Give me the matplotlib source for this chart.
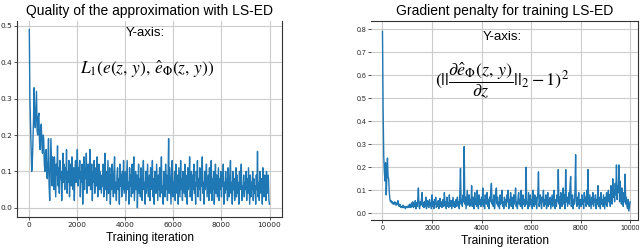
import numpy as np
import matplotlib
matplotlib.use("Agg")
import matplotlib.pyplot as plt

plt.rcParams['mathtext.fontset'] = 'stix'

# L1 approximation quality (left panel), one value every 25 iterations
l1_quality = [
    0.49, 0.30, 0.23, 0.15, 0.10, 0.12, 0.18, 0.24, 0.33, 0.25,
    0.22, 0.27, 0.32, 0.21, 0.20, 0.25, 0.26, 0.18, 0.16, 0.22,
    0.23, 0.17, 0.15, 0.20, 0.19, 0.12, 0.10, 0.15, 0.16, 0.09,
    0.08, 0.13, 0.19, 0.06, 0.02, 0.11, 0.19, 0.12, 0.06, 0.14,
    # 1000-1975
    0.10, 0.05, 0.14, 0.08, 0.03, 0.12, 0.09, 0.17, 0.06, 0.11,
    0.04, 0.13, 0.08, 0.10, 0.02, 0.09, 0.15, 0.07, 0.12, 0.05,
    0.11, 0.08, 0.16, 0.04, 0.10, 0.07, 0.13, 0.03, 0.09, 0.12,
    0.06, 0.14, 0.08, 0.05, 0.11, 0.02, 0.10, 0.13, 0.07, 0.09,
    # 2000-2975
    0.16, 0.06, 0.11, 0.08, 0.13, 0.03, 0.10, 0.07, 0.12, 0.01,
    0.09, 0.14, 0.05, 0.11, 0.08, 0.15, 0.04, 0.09, 0.12, 0.06,
    0.10, 0.16, 0.05, 0.08, 0.12, 0.02, 0.10, 0.07, 0.13, 0.04,
    0.09, 0.11, 0.06, 0.14, 0.03, 0.08, 0.12, 0.05, 0.10, 0.07,
    # 3000-3975
    0.04, 0.09, 0.06, 0.12, 0.03, 0.07, 0.15, 0.05, 0.10, 0.02,
    0.08, 0.13, 0.04, 0.06, 0.11, 0.01, 0.09, 0.05, 0.12, 0.07,
    0.03, 0.10, 0.14, 0.04, 0.07, 0.02, 0.09, 0.11, 0.05, 0.08,
    0.01, 0.12, 0.06, 0.09, 0.03, 0.10, 0.05, 0.13, 0.04, 0.07,
    # 4000-4975
    0.10, 0.02, 0.08, 0.13, 0.05, 0.07, 0.01, 0.11, 0.06, 0.09,
    0.03, 0.12, 0.04, 0.08, 0.14, 0.02, 0.06, 0.10, 0.05, 0.09,
    0.00, 0.07, 0.12, 0.04, 0.08, 0.03, 0.11, 0.06, 0.02, 0.09,
    0.13, 0.05, 0.07, 0.01, 0.10, 0.04, 0.08, 0.12, 0.03, 0.06,
    # 5000-5975
    0.09, 0.02, 0.11, 0.05, 0.07, 0.13, 0.03, 0.08, 0.01, 0.10,
    0.06, 0.04, 0.12, 0.07, 0.02, 0.09, 0.05, 0.11, 0.03, 0.08,
    0.14, 0.04, 0.06, 0.01, 0.10, 0.07, 0.03, 0.12, 0.05, 0.09,
    0.02, 0.08, 0.19, 0.04, 0.11, 0.06, 0.01, 0.09, 0.13, 0.03,
    # 6000-6975
    0.07, 0.05, 0.10, 0.02, 0.12, 0.06, 0.04, 0.09, 0.01, 0.11,
    0.07, 0.03, 0.13, 0.05, 0.08, 0.02, 0.10, 0.06, 0.04, 0.12,
    0.03, 0.09, 0.07, 0.01, 0.11, 0.05, 0.08, 0.14, 0.03, 0.06,
    0.10, 0.02, 0.09, 0.05, 0.12, 0.04, 0.07, 0.01, 0.10, 0.06,
    # 7000-7975
    0.13, 0.03, 0.08, 0.05, 0.11, 0.02, 0.09, 0.06, 0.14, 0.04,
    0.07, 0.01, 0.10, 0.05, 0.08, 0.12, 0.03, 0.06, 0.09, 0.02,
    0.11, 0.04, 0.07, 0.13, 0.02, 0.08, 0.05, 0.10, 0.01, 0.06,
    0.12, 0.04, 0.09, 0.03, 0.07, 0.11, 0.02, 0.08, 0.05, 0.10,
    # 8000-8975
    0.03, 0.09, 0.06, 0.12, 0.01, 0.07, 0.04, 0.10, 0.05, 0.08,
    0.02, 0.11, 0.06, 0.03, 0.09, 0.13, 0.04, 0.07, 0.01, 0.10,
    0.05, 0.08, 0.02, 0.06, 0.11, 0.03, 0.09, 0.04, 0.07, 0.01,
    0.10, 0.05, 0.08, 0.12, 0.02, 0.06, 0.04, 0.09, 0.03, 0.07,
    # 9000-10000
    0.05, 0.10, 0.02, 0.08, 0.04, 0.11, 0.06, 0.01, 0.09, 0.03,
    0.07, 0.05, 0.10, 0.02, 0.08, 0.04, 0.06, 0.01, 0.09, 0.05,
    0.155, 0.03, 0.07, 0.02, 0.10, 0.05, 0.04, 0.08, 0.01, 0.11,
    0.06, 0.03, 0.09, 0.05, 0.02, 0.10, 0.04, 0.07, 0.09, 0.02,
    0.01,
]

# Gradient penalty (right panel), one value every 25 iterations
grad_penalty = [
    0.79, 0.45, 0.25, 0.18, 0.14, 0.22, 0.08, 0.15, 0.24, 0.16,
    0.15, 0.09, 0.06, 0.05, 0.055, 0.045, 0.05, 0.04, 0.045, 0.04,
    0.05, 0.04, 0.035, 0.045, 0.04, 0.055, 0.035, 0.03, 0.04, 0.03,
    0.025, 0.03, 0.025, 0.035, 0.025, 0.03, 0.025, 0.02, 0.03, 0.025,
    # 1000-1975
    0.025, 0.03, 0.035, 0.025, 0.04, 0.03, 0.025, 0.045, 0.03, 0.05,
    0.025, 0.04, 0.03, 0.055, 0.02, 0.045, 0.03, 0.06, 0.11, 0.03,
    0.02, 0.05, 0.035, 0.06, 0.09, 0.03, 0.045, 0.025, 0.05, 0.03,
    0.07, 0.02, 0.04, 0.055, 0.03, 0.025, 0.06, 0.035, 0.045, 0.02,
    # 2000-2975
    0.08, 0.03, 0.05, 0.02, 0.06, 0.04, 0.07, 0.025, 0.045, 0.03,
    0.055, 0.02, 0.04, 0.065, 0.03, 0.05, 0.025, 0.04, 0.06, 0.03,
    0.09, 0.035, 0.05, 0.02, 0.07, 0.03, 0.045, 0.025, 0.08, 0.04,
    0.03, 0.055, 0.02, 0.045, 0.07, 0.03, 0.05, 0.025, 0.04, 0.06,
    # 3000-3975
    0.03, 0.07, 0.04, 0.05, 0.02, 0.09, 0.195, 0.04, 0.06, 0.03,
    0.08, 0.05, 0.29, 0.04, 0.07, 0.02, 0.06, 0.10, 0.035, 0.05,
    0.08, 0.03, 0.06, 0.04, 0.12, 0.03, 0.07, 0.05, 0.02, 0.09,
    0.04, 0.06, 0.03, 0.10, 0.05, 0.02, 0.08, 0.04, 0.06, 0.03,
    # 4000-4975
    0.07, 0.04, 0.11, 0.03, 0.06, 0.02, 0.08, 0.05, 0.04, 0.09,
    0.03, 0.06, 0.02, 0.07, 0.05, 0.10, 0.13, 0.04, 0.06, 0.03,
    0.08, 0.02, 0.05, 0.09, 0.11, 0.04, 0.07, 0.03, 0.05, 0.02,
    0.08, 0.04, 0.06, 0.10, 0.03, 0.05, 0.02, 0.07, 0.04, 0.06,
    # 5000-5975
    0.03, 0.08, 0.05, 0.10, 0.02, 0.06, 0.04, 0.09, 0.03, 0.07,
    0.05, 0.02, 0.08, 0.04, 0.06, 0.11, 0.03, 0.05, 0.02, 0.07,
    0.09, 0.04, 0.06, 0.03, 0.10, 0.05, 0.02, 0.08, 0.04, 0.06,
    0.03, 0.07, 0.20, 0.04, 0.05, 0.02, 0.09, 0.06, 0.03, 0.08,
    # 6000-6975
    0.04, 0.06, 0.02, 0.10, 0.05, 0.03, 0.08, 0.04, 0.07, 0.02,
    0.06, 0.09, 0.18, 0.03, 0.05, 0.08, 0.04, 0.02, 0.07, 0.05,
    0.10, 0.03, 0.06, 0.04, 0.08, 0.02, 0.05, 0.09, 0.03, 0.06,
    0.04, 0.07, 0.02, 0.05, 0.08, 0.03, 0.06, 0.10, 0.04, 0.02,
    # 7000-7975
    0.06, 0.03, 0.08, 0.05, 0.19, 0.04, 0.07, 0.02, 0.09, 0.05,
    0.03, 0.06, 0.11, 0.04, 0.08, 0.02, 0.19, 0.05, 0.07, 0.03,
    0.06, 0.09, 0.04, 0.12, 0.16, 0.03, 0.05, 0.08, 0.02, 0.06,
    0.04, 0.10, 0.255, 0.05, 0.03, 0.07, 0.04, 0.09, 0.02, 0.06,
    # 8000-8975
    0.05, 0.03, 0.08, 0.04, 0.06, 0.02, 0.09, 0.05, 0.07, 0.03,
    0.10, 0.04, 0.19, 0.06, 0.03, 0.08, 0.05, 0.02, 0.07, 0.04,
    0.09, 0.03, 0.06, 0.05, 0.08, 0.02, 0.06, 0.04, 0.12, 0.03,
    0.07, 0.05, 0.02, 0.09, 0.04, 0.06, 0.03, 0.08, 0.05, 0.02,
    # 9000-10000
    0.07, 0.04, 0.09, 0.03, 0.06, 0.10, 0.05, 0.08, 0.03, 0.12,
    0.06, 0.04, 0.15, 0.07, 0.10, 0.05, 0.13, 0.08, 0.21, 0.06,
    0.12, 0.09, 0.21, 0.05, 0.14, 0.08, 0.04, 0.11, 0.06, 0.03,
    0.09, 0.05, 0.17, 0.04, 0.07, 0.03, 0.02, 0.06, 0.01, 0.03,
    0.05,
]

left_yticks = [0.0, 0.1, 0.2, 0.3, 0.4, 0.5]
right_yticks = [0.0, 0.1, 0.2, 0.3, 0.4, 0.5, 0.6, 0.7, 0.8]
xticks = [0, 2000, 4000, 6000, 8000, 10000]

left_title = "Quality of the approximation with LS-ED"
right_title = "Gradient penalty for training LS-ED"
xlabel = "Training iteration"
left_formula = r"$L_1(e(z,\,y),\,\hat{e}_\Phi(z,\,y))$"
right_formula = r"$(||\dfrac{\partial\hat{e}_\Phi(z,\,y)}{\partial z}||_2-1)^2$"

it_left = np.linspace(0, 10000, len(l1_quality))
it_right = np.linspace(0, 10000, len(grad_penalty))

fig = plt.figure(figsize=(6.4, 2.49), dpi=100)
ax1 = fig.add_axes([0.027, 0.128, 0.414, 0.788])
ax2 = fig.add_axes([0.58, 0.1165, 0.417, 0.80])

line_color = '#1f77b4'
grid_color = '#cccccc'
spine_color = '#333333'
text_font = 'Liberation Sans'

for ax, lsize, lpad in ((ax1, 5.3, 3), (ax2, 5.0, 2.0)):
    ax.grid(True, color=grid_color, linewidth=0.8)
    ax.set_axisbelow(True)
    ax.tick_params(labelsize=lsize, length=2, width=0.6, color='#333333', pad=1.5,
                   labelcolor='#222222')
    for s in ax.spines.values():
        s.set_color(spine_color)
        s.set_linewidth(0.8)
    ax.set_xticks(xticks)
    ax.set_xlabel(xlabel, fontsize=8.6, labelpad=lpad, family=text_font)

ax1.plot(it_left, l1_quality, color=line_color, linewidth=1.0)
ax1.set_xlim(-500, 10530)
ax1.set_ylim(-0.0256, 0.5135)
ax1.set_yticks(left_yticks)
ax1.set_yticklabels([f"{v:.1f}" for v in left_yticks])
ax1.spines['top'].set_visible(False)
ax1.set_title(left_title, fontsize=10, pad=4, family=text_font)
ax1.text(0.483, 0.94, "Y-axis:", transform=ax1.transAxes, ha='center', va='center',
         fontsize=9.5, family=text_font)
ax1.text(0.49, 0.755, left_formula, transform=ax1.transAxes, ha='center', va='center', fontsize=12.5)

ax2.plot(it_right, grad_penalty, color=line_color, linewidth=1.0)
ax2.set_xlim(-456, 10323)
ax2.set_ylim(-0.029, 0.836)
ax2.set_yticks(right_yticks)
ax2.set_yticklabels([f"{v:.1f}" for v in right_yticks])
for lab in ax2.get_xticklabels() + ax2.get_yticklabels():
    lab.set_family(text_font)
ax2.spines['left'].set_visible(False)
ax2.set_title(right_title, fontsize=10, pad=4, family=text_font)
ax2.text(0.49, 0.92, "Y-axis:", transform=ax2.transAxes, ha='center', va='center',
         fontsize=9.5, family=text_font)
ax2.text(0.49, 0.70, right_formula, transform=ax2.transAxes, ha='center', va='center', fontsize=13)

fig.savefig("out.png", dpi=100)
